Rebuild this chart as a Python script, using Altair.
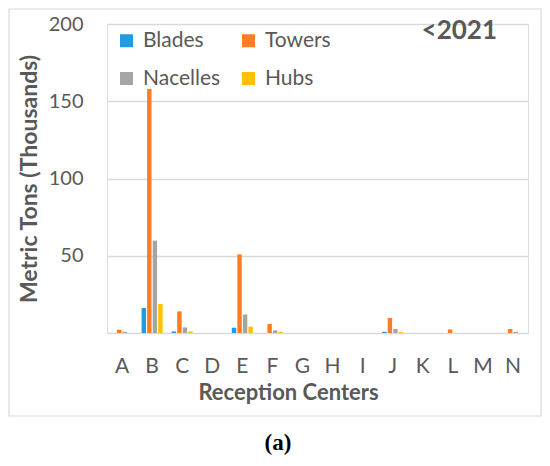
import altair as alt
import pandas as pd

centers = list("ABCDEFGHIJKLMN")
components = ["Blades", "Towers", "Nacelles", "Hubs"]
colors = ["#1F9BDE", "#FF7C24", "#A5A5A5", "#FFC000"]

blades   = [0.0, 16.2, 1.0, 0.0, 3.4, 0.0, 0.0, 0.0, 0.0, 0.8, 0.0, 0.0, 0.0, 0.0]
towers   = [2.1, 158.0, 14.0, 0.0, 50.9, 5.8, 0.0, 0.0, 0.0, 9.7, 0.0, 2.3, 0.0, 2.6]
nacelles = [0.8, 59.8, 3.6, 0.0, 12.0, 1.7, 0.0, 0.0, 0.0, 2.6, 0.0, 0.0, 0.0, 0.8]
hubs     = [0.0, 18.8, 1.0, 0.0, 4.1, 0.8, 0.0, 0.0, 0.0, 0.6, 0.0, 0.0, 0.0, 0.0]

y_ticks = [0, 50, 100, 150, 200]
tag_text = "<2021"
caption_text = "(a)"

series = {"Blades": blades, "Towers": towers, "Nacelles": nacelles, "Hubs": hubs}
rows = []
for comp in components:
    for c, v in zip(centers, series[comp]):
        rows.append({"center": c, "component": comp, "value": v})
df = pd.DataFrame(rows)

FONT = "Lato"
GREY = "#595959"
W, H = 421, 309

bars = alt.Chart(df).mark_bar().encode(
    x=alt.X("center:N", sort=centers,
            scale=alt.Scale(paddingInner=0.3, paddingOuter=0.15),
            axis=alt.Axis(title="Reception Centers", labelAngle=0, ticks=False,
                          domain=False, labelFontSize=21, labelPadding=33,
                          labelBaseline="middle", labelColor=GREY, labelFont=FONT,
                          titleFont=FONT, titleFontSize=22, titleFontWeight="bold",
                          titleColor=GREY, titleX=181, titleY=59,
                          titleBaseline="middle", titleAnchor="start", titleAlign="center")),
    xOffset=alt.XOffset("component:N", sort=components,
                        scale=alt.Scale(paddingInner=0.2)),
    y=alt.Y("value:Q", scale=alt.Scale(domain=[0, 200], nice=False),
            axis=alt.Axis(values=y_ticks, title="Metric Tons (Thousands)",
                          labelExpr="datum.value == 0 ? '' : datum.label",
                          ticks=False, domain=False, grid=True,
                          gridColor="#D9D9D9", gridWidth=1.3,
                          labelFontSize=20, labelPadding=24, labelColor=GREY,
                          labelFont=FONT, titleFont=FONT, titleFontSize=23,
                          titleFontWeight="bold", titleColor=GREY,
                          titleX=-78, titleBaseline="middle")),
    color=alt.Color("component:N", sort=components,
                    scale=alt.Scale(domain=components, range=colors),
                    legend=alt.Legend(title=None, orient="none", legendX=9, legendY=6,
                                      columns=2, direction="horizontal",
                                      symbolType="square", symbolSize=169,
                                      symbolStrokeWidth=0, labelFontSize=21,
                                      labelFont=FONT, labelColor=GREY, labelOffset=6,
                                      columnPadding=17, rowPadding=16, padding=0)),
)

tag = alt.Chart(pd.DataFrame({"t": [tag_text]})).mark_text(
    align="right", baseline="middle", font=FONT, fontSize=26, fontWeight="bold",
    color=GREY
).encode(x=alt.value(390), y=alt.value(7), text="t:N")

caption = alt.Chart(pd.DataFrame({"t": [caption_text]})).mark_text(
    align="center", baseline="middle", font="Liberation Serif", fontSize=23,
    fontWeight="bold", color="#000000"
).encode(x=alt.value(171), y=alt.value(419), text="t:N")

frame = alt.Chart(pd.DataFrame({"t": [0]})).mark_rect(
    fill=None, stroke="#D9D9D9", strokeWidth=1.2, clip=False
).encode(x=alt.value(-98), x2=alt.value(434), y=alt.value(-15), y2=alt.value(392))

chart = alt.layer(frame, bars, tag, caption).properties(
    width=W, height=H,
    autosize=alt.AutoSizeParams(type="none"),
    padding={"left": 99, "top": 16, "right": 14, "bottom": 132},
).configure_view(stroke=None).configure(background="white")

chart.save("out.html", embed_options={"renderer": "svg", "actions": False})
